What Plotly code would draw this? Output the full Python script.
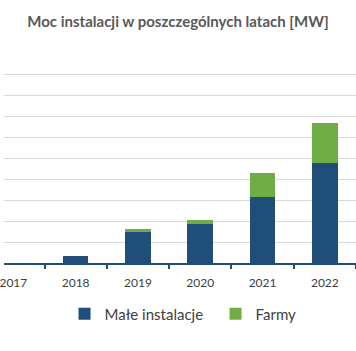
import plotly.graph_objects as go

years = ["2017", "2018", "2019", "2020", "2021", "2022"]
male_instalacje = [0.0, 6.3, 30.0, 37.3, 63.2, 95.0]
farmy = [0.0, 0.0, 2.6, 3.8, 22.2, 38.5]

BLUE = "#1f4e79"
GREEN = "#70ad47"
FONT = "Lato"

fig = go.Figure()
fig.add_trace(go.Bar(x=years, y=male_instalacje, name="Małe instalacje",
                     marker=dict(color=BLUE, line=dict(width=0)), legend="legend"))
fig.add_trace(go.Bar(x=years, y=farmy, name="Farmy",
                     marker=dict(color=GREEN, line=dict(width=0)), legend="legend2"))

leg_common = dict(orientation="h", xanchor="left", y=-0.243, yanchor="middle",
                  font=dict(family=FONT, size=15, color="#404040"),
                  bgcolor="rgba(0,0,0,0)", borderwidth=0)

fig.update_layout(
    width=356, height=351,
    barmode="stack", bargap=0.59,
    paper_bgcolor="white", plot_bgcolor="white",
    margin=dict(l=0, r=0, t=53, b=88),
    title=dict(text="<b>Moc instalacji w poszczególnych latach [MW]</b>",
               x=0.5, xanchor="center", y=1 - 21.7 / 351, yanchor="middle",
               yref="container",
               font=dict(family=FONT, size=15, color="#595959")),
    font=dict(family=FONT, color="#404040"),
    showlegend=True,
    legend=dict(x=0.172, **leg_common),
    legend2=dict(x=0.601, **leg_common),
)
fig.update_xaxes(type="category", range=[-0.15, 5.5],
                 showline=True, linecolor=BLUE, linewidth=2,
                 ticks="outside", tickson="boundaries", ticklen=4, tickwidth=1.5,
                 tickcolor=BLUE, showgrid=False, ticklabelstandoff=8,
                 tickfont=dict(family=FONT, size=12, color="#404040"))
fig.update_yaxes(range=[0, 200], dtick=20, showgrid=True, gridcolor="#d9d9d9",
                 gridwidth=1, showticklabels=False, zeroline=False, showline=False)

fig.write_html("out.html")
